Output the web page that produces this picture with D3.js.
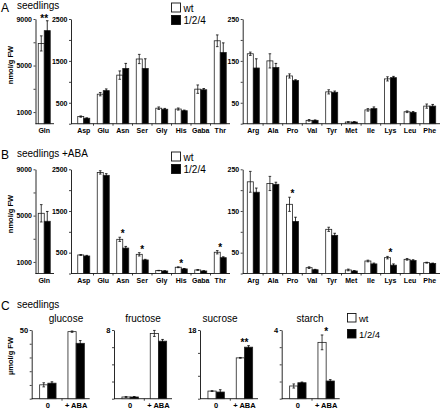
<!DOCTYPE html>
<html>
<head>
<meta charset="utf-8">
<script src="https://cdn.jsdelivr.net/npm/d3@7/dist/d3.min.js"></script>
<style>
  html, body { margin: 0; padding: 0; background: #fff; }
  svg { display: block; }
  text { font-family: "Liberation Sans", Arial, Helvetica, sans-serif; fill: #000; }
</style>
</head>
<body>
<svg id="chart" width="440" height="409"></svg>
<script>
// ---------------- DATA ----------------
const glnCats = ["Gln"];
const aaCats1 = ["Asp", "Glu", "Asn", "Ser", "Gly", "His", "Gaba", "Thr"];
const aaCats2 = ["Arg", "Ala", "Pro", "Val", "Tyr", "Met", "Ile", "Lys", "Leu", "Phe"];
const sugarCats = ["0", "+ ABA"];
const seriesNames = ["wt", "1/2/4"];

// Panel A: seedlings
const aGlnWt = [6900], aGlnWtErr = [650], aGlnMut = [8000], aGlnMutErr = [850];
const aGlnStars = ["**"];
const aAa1Wt = [170, 705, 1160, 1545, 370, 350, 825, 1980];
const aAa1WtErr = [15, 40, 100, 110, 30, 25, 100, 140];
const aAa1Mut = [130, 790, 1320, 1320, 345, 310, 810, 1700];
const aAa1MutErr = [10, 40, 120, 230, 20, 15, 30, 230];
const aAa1Stars = ["", "", "", "", "", "", "", ""];
const aAa2Wt = [167, 150, 114, 8, 76, 4, 33, 107, 28.5, 42];
const aAa2WtErr = [4, 17, 5, 2, 5, 1, 3, 5, 2, 5];
const aAa2Mut = [133, 134, 103, 8, 75, 4, 36, 110, 27, 42];
const aAa2MutErr = [22, 10, 2, 1, 3, 1, 4, 3, 2, 4];
const aAa2Stars = ["", "", "", "", "", "", "", "", "", ""];

// Panel B: seedlings +ABA
const bGlnWt = [5200], bGlnWtErr = [750], bGlnMut = [4510], bGlnMutErr = [850];
const bGlnStars = [""];
const bAa1Wt = [445, 2425, 820, 460, 70, 150, 85, 510];
const bAa1WtErr = [10, 40, 50, 40, 5, 10, 10, 40];
const bAa1Mut = [420, 2355, 610, 325, 60, 110, 60, 380];
const bAa1MutErr = [15, 40, 40, 15, 5, 10, 5, 20];
const bAa1Stars = ["", "", "*", "*", "", "*", "", "*"];
const bAa2Wt = [220, 216, 166, 14, 106, 8.5, 30, 38, 34, 26];
const bAa2WtErr = [25, 17, 17, 2, 5, 2, 2, 3, 2, 1];
const bAa2Mut = [195, 214, 125, 9, 91.5, 6, 23, 20, 31, 24];
const bAa2MutErr = [10, 5, 10, 1, 5, 1, 2, 3, 2, 1];
const bAa2Stars = ["", "", "*", "", "", "", "", "*", "", ""];

// Axis ticks (labelled and unlabelled)
const glnTickLabels = [1000, 5000, 9000], glnMinorTicks = [3000, 7000];
const aa1TickLabels = [500, 1500, 2500], aa1MinorTicks = [0, 1000, 2000];
const aa2TickLabels = [50, 150, 250], aa2MinorTicks = [0, 100, 200];

// Panel C: sugars and starch (µmol/g FW)
const sugarTitles = ["glucose", "fructose", "sucrose", "starch"];
const glucoseWt = [10.1, 48.8], glucoseWtErr = [1.5, 0.5], glucoseMut = [11.3, 40.3], glucoseMutErr = [1.0, 2.0];
const fructoseWt = [0.2, 7.6], fructoseWtErr = [0.05, 0.35], fructoseMut = [0.2, 6.7], fructoseMutErr = [0.05, 0.2];
const sucroseWt = [2.0, 10.7], sucroseWtErr = [0.1, 0.1], sucroseMut = [1.75, 13.5], sucroseMutErr = [0.6, 0.4];
const starchWt = [0.74, 3.28], starchWtErr = [0.12, 0.43], starchMut = [0.93, 1.03], starchMutErr = [0.04, 0.08];
const glucoseStars = ["", ""], fructoseStars = ["", ""], sucroseStars = ["", "**"], starchStars = ["", "*"];
const glucoseTicks = [0, 10, 20, 30, 40, 50], glucoseTickLabels = [50];
const fructoseTicks = [0, 2, 4, 6, 8], fructoseTickLabels = [8];
const sucroseTicks = [0, 6, 12, 18], sucroseTickLabels = [18];
const starchTicks = [0, 1, 2, 3, 4], starchTickLabels = [4];

// ---------------- DRAWING ----------------
const svg = d3.select("#chart");
const FONT = '"Liberation Sans", Arial, Helvetica, sans-serif';

function drawPanel(o) {
  const g = svg.append("g");
  const y = d3.scaleLinear().domain([0, o.max]).range([o.base, o.top]);
  const x = d3.scaleBand().domain(o.cats).range(o.xRange).padding(0);
  const bw = o.barW;

  // y axis
  const allTicks = o.ticks.slice().sort((a, b) => a - b);
  const yAxis = d3.axisLeft(y).tickValues(allTicks).tickSize(2).tickSizeOuter(0).tickPadding(1.5)
    .tickFormat(d => o.labels.includes(d) ? String(d) : "");
  const ya = g.append("g").attr("transform", `translate(${o.axisX},0)`).call(yAxis);
  ya.select(".domain").attr("stroke", "#111").attr("stroke-width", 0.9);
  ya.selectAll(".tick line").attr("stroke", "#111").attr("stroke-width", 0.8);
  ya.selectAll(".tick text").attr("font-family", FONT).attr("font-size", o.tickFont)
    .attr("font-weight", "bold").attr("fill", "#000");

  // x baseline
  g.append("line").attr("x1", o.axisX).attr("x2", o.xEnd)
    .attr("y1", o.base).attr("y2", o.base).attr("stroke", "#111").attr("stroke-width", 0.9);
  // divider ticks between categories
  o.cats.slice(1).forEach(c => {
    g.append("line").attr("x1", x(c)).attr("x2", x(c)).attr("y1", o.base).attr("y2", o.base + 2)
      .attr("stroke", "#111").attr("stroke-width", 0.8);
  });
  // category labels
  o.cats.forEach(c => {
    g.append("text").attr("x", x(c) + x.bandwidth() / 2).attr("y", o.base + o.labelDy)
      .attr("text-anchor", "middle").attr("font-size", o.catFont).attr("font-weight", "bold")
      .text(c);
  });

  // bars
  o.cats.forEach((c, i) => {
    const cx = x(c) + x.bandwidth() / 2;
    const series = [
      { v: o.wt[i], e: o.wtErr[i], x0: cx - bw, fill: "#fff" },
      { v: o.mut[i], e: o.mutErr[i], x0: cx, fill: "#000" }
    ];
    series.forEach(s => {
      g.append("rect").attr("x", s.x0).attr("width", bw)
        .attr("y", y(s.v)).attr("height", o.base - y(s.v))
        .attr("fill", s.fill).attr("stroke", "#222").attr("stroke-width", 0.8);
    });
    series.forEach(s => {
      const ex = s.x0 + bw / 2;
      const y1 = y(s.v + s.e), y2 = y(Math.max(0, s.v - s.e));
      const col = s.fill === "#000" ? "#000" : "#111";
      g.append("line").attr("x1", ex).attr("x2", ex).attr("y1", y1).attr("y2", y2)
        .attr("stroke", col).attr("stroke-width", 0.8);
      [y1, y2].forEach(yy => g.append("line").attr("x1", ex - 1.3).attr("x2", ex + 1.3)
        .attr("y1", yy).attr("y2", yy).attr("stroke", col).attr("stroke-width", 0.8));
    });
    if (o.stars[i]) {
      const topY = Math.min(y(o.wt[i] + o.wtErr[i]), y(o.mut[i] + o.mutErr[i]));
      g.append("text").attr("x", cx).attr("y", topY + (o.starDy || 0))
        .attr("text-anchor", "middle").attr("font-size", 10).attr("font-weight", "bold")
        .text(o.stars[i]);
    }
  });
  return g;
}

function legend(x0, y0, size, gap, fontSize) {
  seriesNames.forEach((n, i) => {
    svg.append("rect").attr("x", x0).attr("y", y0 + i * gap).attr("width", size).attr("height", size)
      .attr("fill", i === 0 ? "#fff" : "#000").attr("stroke", "#111").attr("stroke-width", 0.9);
    svg.append("text").attr("x", x0 + size + 3).attr("y", y0 + i * gap + size - 0.5)
      .attr("font-size", fontSize).text(n);
  });
}

function yTitle(text, cx, cy) {
  svg.append("text").attr("transform", `translate(${cx},${cy}) rotate(-90)`)
    .attr("text-anchor", "middle").attr("font-size", 7.5).attr("font-weight", "bold").text(text);
}

// ---- Panels A and B ----
const rows = [
  { letter: "A", title: "seedlings", top: 19, base: 123.7, letterY: 12, titleY: 8.5,
    gln: [aGlnWt, aGlnWtErr, aGlnMut, aGlnMutErr, aGlnStars],
    aa1: [aAa1Wt, aAa1WtErr, aAa1Mut, aAa1MutErr, aAa1Stars],
    aa2: [aAa2Wt, aAa2WtErr, aAa2Mut, aAa2MutErr, aAa2Stars], legendY: 3, yTitleY: 65 },
  { letter: "B", title: "seedlings +ABA", top: 169.3, base: 273.5, letterY: 159, titleY: 157,
    gln: [bGlnWt, bGlnWtErr, bGlnMut, bGlnMutErr, bGlnStars],
    aa1: [bAa1Wt, bAa1WtErr, bAa1Mut, bAa1MutErr, bAa1Stars],
    aa2: [bAa2Wt, bAa2WtErr, bAa2Mut, bAa2MutErr, bAa2Stars], legendY: 152, yTitleY: 214 }
];

rows.forEach(r => {
  svg.append("text").attr("x", 1).attr("y", r.letterY).attr("font-size", 12).text(r.letter);
  svg.append("text").attr("x", 17).attr("y", r.titleY).attr("font-size", 10).text(r.title);
  yTitle("nmol/g FW", 13, r.yTitleY);
  legend(171.5, r.legendY, 9, 12.5, 10);
  const common = { top: r.top, base: r.base, barW: 6, tickFont: 7, catFont: 7, labelDy: 9.5 };
  drawPanel(Object.assign({}, common, {
    cats: glnCats, xRange: [35.5, 53], axisX: 35.5, xEnd: 54, max: 9000,
    ticks: glnTickLabels.concat(glnMinorTicks), labels: glnTickLabels,
    wt: r.gln[0], wtErr: r.gln[1], mut: r.gln[2], mutErr: r.gln[3], stars: r.gln[4], starDy: 1.5
  }));
  drawPanel(Object.assign({}, common, {
    cats: aaCats1, xRange: [74, 230], axisX: 71, xEnd: 230, max: 2500,
    ticks: aa1TickLabels.concat(aa1MinorTicks), labels: aa1TickLabels,
    wt: r.aa1[0], wtErr: r.aa1[1], mut: r.aa1[2], mutErr: r.aa1[3], stars: r.aa1[4], starDy: 0
  }));
  drawPanel(Object.assign({}, common, {
    cats: aaCats2, xRange: [243.5, 439.5], axisX: 242.7, xEnd: 440, max: 250,
    ticks: aa2TickLabels.concat(aa2MinorTicks), labels: aa2TickLabels,
    wt: r.aa2[0], wtErr: r.aa2[1], mut: r.aa2[2], mutErr: r.aa2[3], stars: r.aa2[4], starDy: 0
  }));
});

// ---- Panel C ----
svg.append("text").attr("x", 1).attr("y", 310).attr("font-size", 12).text("C");
svg.append("text").attr("x", 17).attr("y", 308).attr("font-size", 10).text("seedlings");
yTitle("µmol/g FW", 13, 356);
legend(347.5, 313.5, 8.5, 16, 9.5);

const sugarSets = [
  { wt: glucoseWt, wtErr: glucoseWtErr, mut: glucoseMut, mutErr: glucoseMutErr, stars: glucoseStars, ticks: glucoseTicks, labels: glucoseTickLabels },
  { wt: fructoseWt, wtErr: fructoseWtErr, mut: fructoseMut, mutErr: fructoseMutErr, stars: fructoseStars, ticks: fructoseTicks, labels: fructoseTickLabels },
  { wt: sucroseWt, wtErr: sucroseWtErr, mut: sucroseMut, mutErr: sucroseMutErr, stars: sucroseStars, ticks: sucroseTicks, labels: sucroseTickLabels },
  { wt: starchWt, wtErr: starchWtErr, mut: starchMut, mutErr: starchMutErr, stars: starchStars, ticks: starchTicks, labels: starchTickLabels }
];
const sugarAxisX = [31.7, 114, 200, 281.7];
const sugarTitleX = [66, 143, 220, 310];

sugarSets.forEach((s, i) => {
  const ax = sugarAxisX[i];
  drawPanel({
    cats: sugarCats, xRange: [ax + 2, ax + 58.6], axisX: ax, xEnd: ax + 58, top: 330, base: 398.7,
    max: d3.max(s.ticks), ticks: s.ticks, labels: s.labels, barW: 8.2, tickFont: 7.5, catFont: 7.5, labelDy: 8.8,
    wt: s.wt, wtErr: s.wtErr, mut: s.mut, mutErr: s.mutErr, stars: s.stars, starDy: 0
  });
  svg.append("text").attr("x", sugarTitleX[i]).attr("y", 322).attr("text-anchor", "middle")
    .attr("font-size", 10).text(sugarTitles[i]);
});
</script>
</body>
</html>
